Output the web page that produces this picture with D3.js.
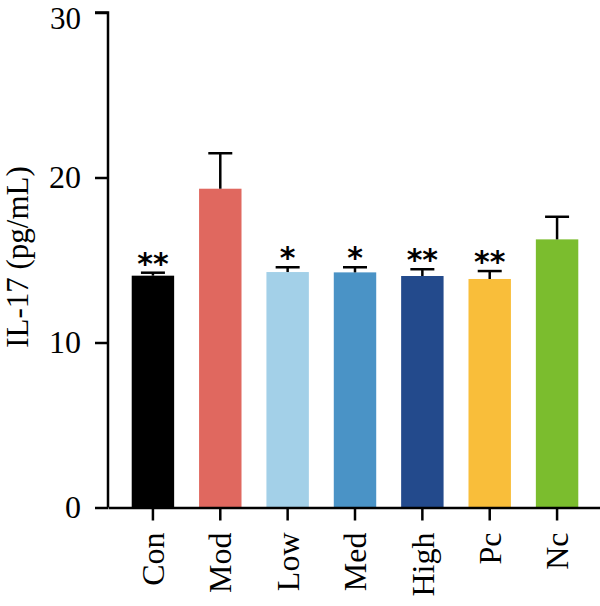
<!DOCTYPE html>
<html>
<head>
<meta charset="utf-8">
<script src="https://cdn.jsdelivr.net/npm/d3@7"></script>
<style>
  body { margin: 0; background: #fff; }
</style>
</head>
<body>
<script>
// group names, means, upper error and significance marks
var groups = ["Con", "Mod", "Low", "Med", "High", "Pc", "Nc"];
var means  = [14.05, 19.32, 14.27, 14.25, 14.03, 13.85, 16.25];
var errs   = [0.18, 2.15, 0.29, 0.31, 0.41, 0.48, 1.37];
var stars  = ["**", "", "*", "*", "**", "**", ""];
var colors = ["#000000", "#e0685f", "#a3d0e8", "#4a93c6", "#234a8c", "#f9be3a", "#7bbd2e"];
var yTicks = [0, 10, 20, 30];

var width = 600, height = 606;

var svg = d3.select("body").append("svg")
  .attr("width", width)
  .attr("height", height);

var x = d3.scaleBand()
  .domain(groups)
  .range([108, 602])
  .paddingInner(0.37)
  .paddingOuter(0.352);

var y = d3.scaleLinear()
  .domain([0, 30])
  .range([507.5, 12.5]);

var data = groups.map(function(g, i) {
  return { name: g, mean: means[i], err: errs[i], star: stars[i], color: colors[i] };
});

// bars
svg.selectAll(".bar")
  .data(data)
  .enter().append("rect")
  .attr("class", "bar")
  .attr("x", function(d) { return x(d.name); })
  .attr("width", x.bandwidth())
  .attr("y", function(d) { return y(d.mean); })
  .attr("height", function(d) { return y(0) - y(d.mean); })
  .attr("fill", function(d) { return d.color; });

// error bars (upper only)
var capW = 24;
svg.selectAll(".errline")
  .data(data)
  .enter().append("line")
  .attr("x1", function(d) { return x(d.name) + x.bandwidth() / 2; })
  .attr("x2", function(d) { return x(d.name) + x.bandwidth() / 2; })
  .attr("y1", function(d) { return y(d.mean); })
  .attr("y2", function(d) { return y(d.mean + d.err); })
  .attr("stroke", "#000")
  .attr("stroke-width", 2.5);

svg.selectAll(".errcap")
  .data(data)
  .enter().append("line")
  .attr("x1", function(d) { return x(d.name) + x.bandwidth() / 2 - capW / 2; })
  .attr("x2", function(d) { return x(d.name) + x.bandwidth() / 2 + capW / 2; })
  .attr("y1", function(d) { return y(d.mean + d.err); })
  .attr("y2", function(d) { return y(d.mean + d.err); })
  .attr("stroke", "#000")
  .attr("stroke-width", 2.5);

// significance stars
svg.selectAll(".star")
  .data(data)
  .enter().append("text")
  .attr("x", function(d) { return x(d.name) + x.bandwidth() / 2; })
  .attr("y", function(d) { return y(d.mean + d.err) + 1; })
  .attr("text-anchor", "middle")
  .attr("font-family", "DejaVu Sans, sans-serif")
  .attr("font-weight", "bold")
  .attr("font-size", "30px")
  .attr("fill", "#000")
  .text(function(d) { return d.star; });

// y axis
var yAxis = svg.append("g")
  .attr("transform", "translate(108,0)")
  .call(d3.axisLeft(y).tickValues(yTicks).tickSize(13).tickPadding(14));

// x axis
var xAxis = svg.append("g")
  .attr("transform", "translate(0," + y(0) + ")")
  .call(d3.axisBottom(x).tickSize(13).tickSizeOuter(0));

[yAxis, xAxis].forEach(function(ax) {
  ax.select(".domain").attr("stroke", "#000").attr("stroke-width", 2.5);
  ax.selectAll(".tick line").attr("stroke", "#000").attr("stroke-width", 2.5);
  ax.selectAll("text")
    .attr("font-family", "Liberation Serif, serif")
    .attr("font-size", "32px")
    .attr("fill", "#000");
});

yAxis.select(".domain").attr("d", "M-13," + y(30) + "H0V" + y(0));
// keep the top label inside the page
yAxis.selectAll(".tick text")
  .filter(function(d) { return d === 30; })
  .attr("font-size", "31px")
  .attr("dy", "0.5em");

xAxis.selectAll(".tick text")
  .attr("transform", "rotate(-90)")
  .attr("text-anchor", "end")
  .attr("x", -25)
  .attr("y", 0)
  .attr("dy", "0.35em");

// y label
svg.append("text")
  .attr("transform", "translate(28,257) rotate(-90)")
  .attr("text-anchor", "middle")
  .attr("font-family", "Liberation Serif, serif")
  .attr("font-size", "31px")
  .attr("fill", "#000")
  .text("IL-17 (pg/mL)");
</script>
</body>
</html>
